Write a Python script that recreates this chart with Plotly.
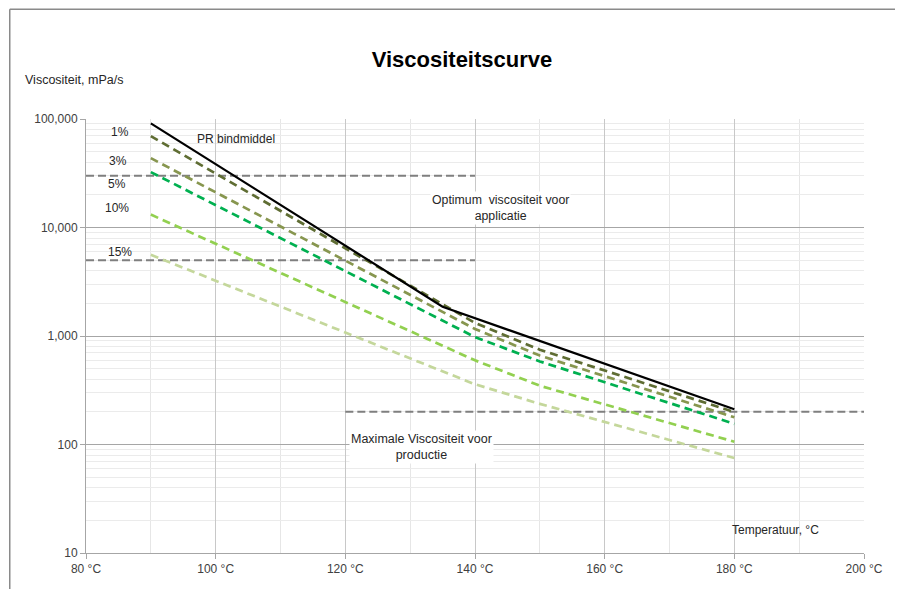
import plotly.graph_objects as go

# ---------------- data ----------------
temps_pr = [90, 135, 180]
visc_pr = [91000, 1860, 211]

temps = [90, 140, 150, 180]
visc_1 = [69500, 1320, 747, 199]
visc_3 = [43600, 1160, 660, 178]
visc_5 = [32400, 977, 583, 155]
visc_10 = [13150, 597, 348, 106]
visc_15 = [5600, 359, 237, 75]

ref_levels = [30000, 5000, 200]
ref_from = [80, 80, 120]
ref_to = [140, 140, 200]

x_ticks = [80, 100, 120, 140, 160, 180, 200]
x_ticktext = ["80 °C", "100 °C", "120 °C", "140 °C", "160 °C", "180 °C", "200 °C"]
y_ticks = [10, 100, 1000, 10000, 100000]
y_ticktext = ["10", "100", "1,000", "10,000", "100,000"]

series_names = ["PR bindmiddel", "1%", "3%", "5%", "10%", "15%"]

# ---------------- figure ----------------
FONT = "Liberation Sans, Arial, sans-serif"
fig = go.Figure()

for lvl, a, b in zip(ref_levels, ref_from, ref_to):
    fig.add_trace(go.Scatter(x=[a, b], y=[lvl, lvl], mode="lines",
                             line=dict(color="#7f7f7f", width=2, dash="8px,4px"),
                             hoverinfo="skip"))

dashed = [(visc_15, "#c4d79b"), (visc_10, "#92d050"), (visc_5, "#00b050"),
          (visc_3, "#87964f"), (visc_1, "#5f6d33")]
names_d = ["15%", "10%", "5%", "3%", "1%"]
for (vals, col), nm in zip(dashed, names_d):
    fig.add_trace(go.Scatter(x=temps, y=vals, mode="lines", name=nm,
                             line=dict(color=col, width=2.7, dash="8px,5px")))

fig.add_trace(go.Scatter(x=temps_pr, y=visc_pr, mode="lines", name=series_names[0],
                         line=dict(color="#000000", width=2.2)))

# ---------------- annotations ----------------
def ann(text, x, y, size=12, **kw):
    d = dict(text=text, x=x, y=y, xref="x", yref="y", showarrow=False,
             font=dict(family=FONT, size=size, color="#262626"))
    d.update(kw)
    fig.add_annotation(**d)

ann("1%", 85.2, 4.883)
ann("3%", 84.9, 4.616)
ann("5%", 84.8, 4.401)
ann("10%", 84.8, 4.177)
ann("15%", 85.3, 3.777)
ann("PR bindmiddel", 103.2, 4.816)
ann("Optimum  viscositeit voor<br>applicatie", 143.9, 4.18, size=12.3, bgcolor="white")
ann("Maximale Viscositeit voor<br>productie", 131.7, 1.98, size=12.5, bgcolor="white")
ann("Temperatuur, °C", 186.4, 1.212)

fig.add_annotation(text="Viscositeit, mPa/s", xref="paper", yref="paper",
                   x=-0.0804, y=1.09, xanchor="left", yanchor="middle", showarrow=False,
                   font=dict(family=FONT, size=12.5, color="#262626"))

# outer frame (only top and left visible)
fig.add_shape(type="line", xref="paper", yref="paper", x0=-0.098, x1=1.2,
              y0=1.2528, y1=1.2528, line=dict(color="#8a8a8a", width=1.5))
fig.add_shape(type="line", xref="paper", yref="paper", x0=-0.098, x1=-0.098,
              y0=-0.2, y1=1.2528, line=dict(color="#8a8a8a", width=1.5))

fig.update_layout(
    width=887, height=581,
    margin=dict(l=78, r=25, t=111, b=36),
    paper_bgcolor="white", plot_bgcolor="white",
    showlegend=False,
    font=dict(family=FONT, size=12, color="#404040"),
    title=dict(text="<b>Viscositeitscurve</b>", x=0.5118, y=0.9122,
               xanchor="center", yanchor="middle", yref="container",
               font=dict(family=FONT, size=22, color="#000000")),
)

fig.update_xaxes(range=[80, 200], tickvals=x_ticks, ticktext=x_ticktext,
                 showgrid=True, gridcolor="#c8c8c8", gridwidth=1,
                 minor=dict(dtick=10, showgrid=True, gridcolor="#e6e6e6", ticks=""),
                 showline=True, linecolor="#a6a6a6", linewidth=1,
                 ticks="outside", ticklen=5, tickcolor="#a6a6a6", zeroline=False,
                 tickfont=dict(family=FONT, size=12, color="#404040"))
fig.update_yaxes(type="log", range=[1, 5], tickvals=y_ticks, ticktext=y_ticktext,
                 showgrid=True, gridcolor="#a6a6a6", gridwidth=1,
                 minor=dict(dtick="D1", showgrid=True, gridcolor="#ebebeb", ticks=""),
                 showline=True, linecolor="#a6a6a6", linewidth=1,
                 ticks="outside", ticklen=5, tickcolor="#a6a6a6", zeroline=False,
                 tickfont=dict(family=FONT, size=12, color="#404040"))

fig.write_html("out.html")
